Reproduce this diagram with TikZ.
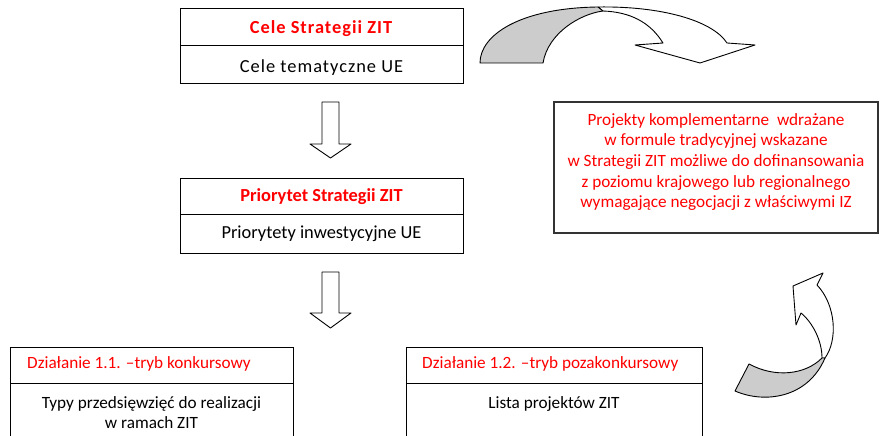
\documentclass[tikz,border=0pt]{standalone}
\usepackage{fontspec}
\setmainfont{Carlito}
\definecolor{zred}{RGB}{255,0,0}
\definecolor{zgray}{RGB}{204,204,204}
\begin{document}
\begin{tikzpicture}[x=1bp,y=-1bp,
  frame/.style={draw=black,line width=0.9bp},
  blockarrow/.style={draw=black,line width=0.9bp,fill=white,line join=round},
  grayband/.style={draw=black,line width=0.9bp,fill=zgray,line join=round},
  bigtxt/.style={inner sep=0pt,font=\fontsize{18.4bp}{22bp}\selectfont},
  widetxt/.style={inner sep=0pt,font=\fontsize{18.4bp}{22bp}\selectfont\addfontfeature{LetterSpace=5.5}},
  midtxt/.style={inner sep=0pt,font=\fontsize{17.2bp}{20bp}\selectfont},
  redtxt/.style={inner sep=0pt,text=zred,align=center,font=\fontsize{17.2bp}{20.7bp}\selectfont}]
\useasboundingbox (0,0) rectangle (880,436);
\clip (0,0) rectangle (880,436);
% top box
\draw[frame] (180,8) rectangle (463,83);
\draw[frame] (180,45) -- (463,45);
\node[widetxt,anchor=base,text=zred] (celezit) at (321.5,34) {\textbf{Cele Strategii ZIT}};
\node[widetxt,anchor=base] (celeue) at (321.5,73) {Cele tematyczne UE};
% arrow 1
\draw[blockarrow] (322,102) -- (339,102) -- (339,144) -- (351,144) -- (330.5,158) -- (310,144) -- (322,144) -- cycle;
% second box
\draw[frame] (180,178) rectangle (463,253);
\draw[frame] (180,214) -- (463,214);
\node[bigtxt,anchor=base,text=zred] (priozit) at (321.5,202) {\textbf{Priorytet Strategii ZIT}};
\node[bigtxt,anchor=base] (prioue) at (321.5,239) {Priorytety inwestycyjne UE};
% arrow 2
\draw[blockarrow] (322,272) -- (339,272) -- (339,313) -- (351,313) -- (330.5,328) -- (310,313) -- (322,313) -- cycle;
% bottom boxes
\draw[frame] (10,347) rectangle (293,450);
\draw[frame] (10,383) -- (293,383);
\node[midtxt,anchor=base west,text=zred] (dz1) at (27,369) {Działanie 1.1. –tryb konkursowy};
\node[midtxt,anchor=base] (typy1) at (151.5,408) {Typy przedsięwzięć do realizacji};
\node[midtxt,anchor=base] (typy2) at (151.5,428) {w ramach ZIT};
\draw[frame] (406,347) rectangle (702,450);
\draw[frame] (406,383) -- (702,383);
\node[midtxt,anchor=base west,text=zred] (dz2) at (422,369) {Działanie 1.2. –tryb pozakonkursowy};
\node[midtxt,anchor=base] (lista) at (554,408) {Lista projektów ZIT};
% right box
\draw[draw=black!80,line width=1.3bp] (554,102) rectangle (878,233);
\node[redtxt] (proj) at (716,162) {Projekty komplementarne\ \ wdrażane\\w formule tradycyjnej wskazane\\w Strategii ZIT możliwe do dofinansowania\\z poziomu krajowego lub regionalnego\\wymagające negocjacji z właściwymi IZ};
% top curved arrow
\draw[blockarrow] (598,7) .. controls (660,6) and (712,20) .. (727,43) -- (755,45) -- (700,63) -- (635,45) -- (663,43) .. controls (650,22) and (630,12) .. (603,11) -- cycle;
\draw[grayband] (480,63) .. controls (480,35) and (520,8) .. (598,7) -- (603,11) .. controls (580,14) and (548,33) .. (543,63) -- cycle;
% bottom-right curved arrow
\draw[blockarrow] (825,358) .. controls (838,340) and (836,305) .. (817,285) -- (823,273) -- (793,286) -- (796,325) -- (801,313) .. controls (812,322) and (822,340) .. (822,358) -- cycle;
\draw[grayband] (735,391) .. controls (765,404) and (808,398) .. (825,358) -- (822,358) .. controls (805,375) and (775,378) .. (749,364) -- cycle;
\end{tikzpicture}
\end{document}
